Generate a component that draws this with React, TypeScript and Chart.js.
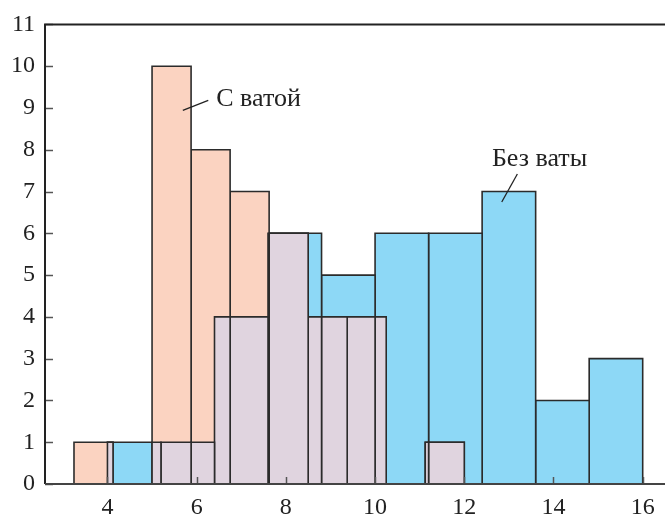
import React, { useEffect, useRef } from 'react';
import { Chart, registerables } from 'chart.js';

Chart.register(...registerables);

// Histogram "Без ваты" (blue): bin edges and counts
const blueEdges = [4.0, 5.2, 6.4, 7.6, 8.8, 10.0, 11.2, 12.4, 13.6, 14.8, 16.0];
const blueCounts = [1, 1, 4, 6, 5, 6, 6, 7, 2, 3];
// Histogram "С ватой" (peach): bin edges and counts
const peachEdges = [3.25, 4.125, 5.0, 5.875, 6.75, 7.625, 8.5, 9.375, 10.25, 11.125, 12.0];
const peachCounts = [1, 0, 10, 8, 7, 6, 4, 4, 0, 1];

const xTicks = [4, 6, 8, 10, 12, 14, 16];
const yTicks = [0, 1, 2, 3, 4, 5, 6, 7, 8, 9, 10, 11];

const labelTexts = ['С ватой', 'Без ваты'];
// text anchor (left, baseline) in data units
const labelAnchors = [
  [6.44, 9.04],
  [12.62, 7.61],
];
// leader lines [x1, y1, x2, y2] in data units
const leaderLines = [
  [5.69, 8.94, 6.26, 9.18],
  [13.19, 7.42, 12.84, 6.75],
];

const BLUE = '#8dd8f6';
const PEACH = '#fbd3c1';
const MIX = '#e0d4df';
const EDGE = '#2b2b2b';
const FONT = "'Liberation Serif', 'DejaVu Serif', serif";

function rect(x0: number, x1: number, h: number) {
  return [
    { x: x0, y: 0 },
    { x: x0, y: h },
    { x: x1, y: h },
    { x: x1, y: 0 },
  ];
}

function barDatasets(edges: number[], counts: number[], color: string, order: number) {
  const out: any[] = [];
  counts.forEach((c, i) => {
    if (c <= 0) return;
    out.push({
      data: rect(edges[i], edges[i + 1], c),
      backgroundColor: color,
      borderColor: EDGE,
      borderWidth: 1.6,
      fill: 'origin',
      pointRadius: 0,
      tension: 0,
      order,
    });
  });
  return out;
}

function overlapDatasets(order: number) {
  const out: any[] = [];
  peachCounts.forEach((pc, i) => {
    if (pc <= 0) return;
    blueCounts.forEach((bc, j) => {
      if (bc <= 0) return;
      const a = Math.max(peachEdges[i], blueEdges[j]);
      const b = Math.min(peachEdges[i + 1], blueEdges[j + 1]);
      if (b - a <= 1e-9) return;
      out.push({
        data: rect(a, b, Math.min(pc, bc)),
        backgroundColor: MIX,
        borderColor: EDGE,
        borderWidth: 1.6,
        fill: 'origin',
        pointRadius: 0,
        tension: 0,
        order,
      });
    });
  });
  return out;
}

const framePlugin = {
  id: 'frame',
  afterDatasetsDraw(chart: any) {
    const { ctx, chartArea } = chart;
    const xs = chart.scales.x;
    const ys = chart.scales.y;
    ctx.save();
    // inner tick marks
    ctx.strokeStyle = '#555';
    ctx.lineWidth = 1.5;
    xTicks.forEach((v) => {
      const px = Math.round(xs.getPixelForValue(v)) + 0.5;
      ctx.beginPath();
      ctx.moveTo(px, chartArea.bottom);
      ctx.lineTo(px, chartArea.bottom - 7);
      ctx.stroke();
    });
    yTicks.forEach((v) => {
      const py = Math.round(ys.getPixelForValue(v)) + 0.5;
      ctx.beginPath();
      ctx.moveTo(chartArea.left, py);
      ctx.lineTo(chartArea.left + 8, py);
      ctx.stroke();
    });
    // frame lines
    ctx.strokeStyle = '#222';
    ctx.lineWidth = 2;
    ctx.beginPath();
    ctx.moveTo(chartArea.right, chartArea.top);
    ctx.lineTo(chartArea.left, chartArea.top);
    ctx.lineTo(chartArea.left, chartArea.bottom);
    ctx.stroke();
    ctx.strokeStyle = '#444';
    ctx.beginPath();
    ctx.moveTo(chartArea.left, chartArea.bottom);
    ctx.lineTo(chartArea.right, chartArea.bottom);
    ctx.stroke();
    // annotations
    ctx.strokeStyle = '#222';
    ctx.lineWidth = 1.3;
    leaderLines.forEach((l) => {
      ctx.beginPath();
      ctx.moveTo(xs.getPixelForValue(l[0]), ys.getPixelForValue(l[1]));
      ctx.lineTo(xs.getPixelForValue(l[2]), ys.getPixelForValue(l[3]));
      ctx.stroke();
    });
    ctx.fillStyle = '#222';
    ctx.font = `26px ${FONT}`;
    ctx.textAlign = 'left';
    ctx.textBaseline = 'alphabetic';
    labelTexts.forEach((t, i) => {
      ctx.fillText(t, xs.getPixelForValue(labelAnchors[i][0]), ys.getPixelForValue(labelAnchors[i][1]));
    });
    ctx.restore();
  },
};

export default function App() {
  const ref = useRef<HTMLCanvasElement | null>(null);
  useEffect(() => {
    if (!ref.current) return;
    const datasets = [
      ...overlapDatasets(1),
      ...barDatasets(peachEdges, peachCounts, PEACH, 2),
      ...barDatasets(blueEdges, blueCounts, BLUE, 3),
    ];
    const chart = new Chart(ref.current, {
      type: 'line',
      data: { datasets },
      options: {
        responsive: false,
        animation: false,
        layout: { padding: { top: 23, right: 0, left: 0, bottom: 0 } },
        plugins: {
          legend: { display: false },
          tooltip: { enabled: false },
        },
        scales: {
          x: {
            type: 'linear',
            min: 2.6,
            max: 16.5,
            afterBuildTicks: (s: any) => {
              s.ticks = xTicks.map((v) => ({ value: v }));
            },
            afterFit: (s: any) => {
              s.height = 31;
            },
            grid: { display: false, drawTicks: false },
            border: { display: false },
            ticks: {
              padding: 9,
              maxRotation: 0,
              autoSkip: false,
              color: '#222',
              font: { family: FONT, size: 24 },
            },
          },
          y: {
            type: 'linear',
            min: 0,
            max: 11,
            afterBuildTicks: (s: any) => {
              s.ticks = yTicks.map((v) => ({ value: v }));
            },
            afterFit: (s: any) => {
              s.width = 45;
            },
            grid: { display: false, drawTicks: false },
            border: { display: false },
            ticks: {
              padding: 10,
              autoSkip: false,
              color: '#222',
              font: { family: FONT, size: 24 },
            },
          },
        },
      },
      plugins: [framePlugin],
    });
    return () => chart.destroy();
  }, []);
  return (
    <div style={{ position: 'absolute', left: 0, top: 0, width: 665, height: 515 }}>
      <canvas ref={ref} width={665} height={515} />
    </div>
  );
}
